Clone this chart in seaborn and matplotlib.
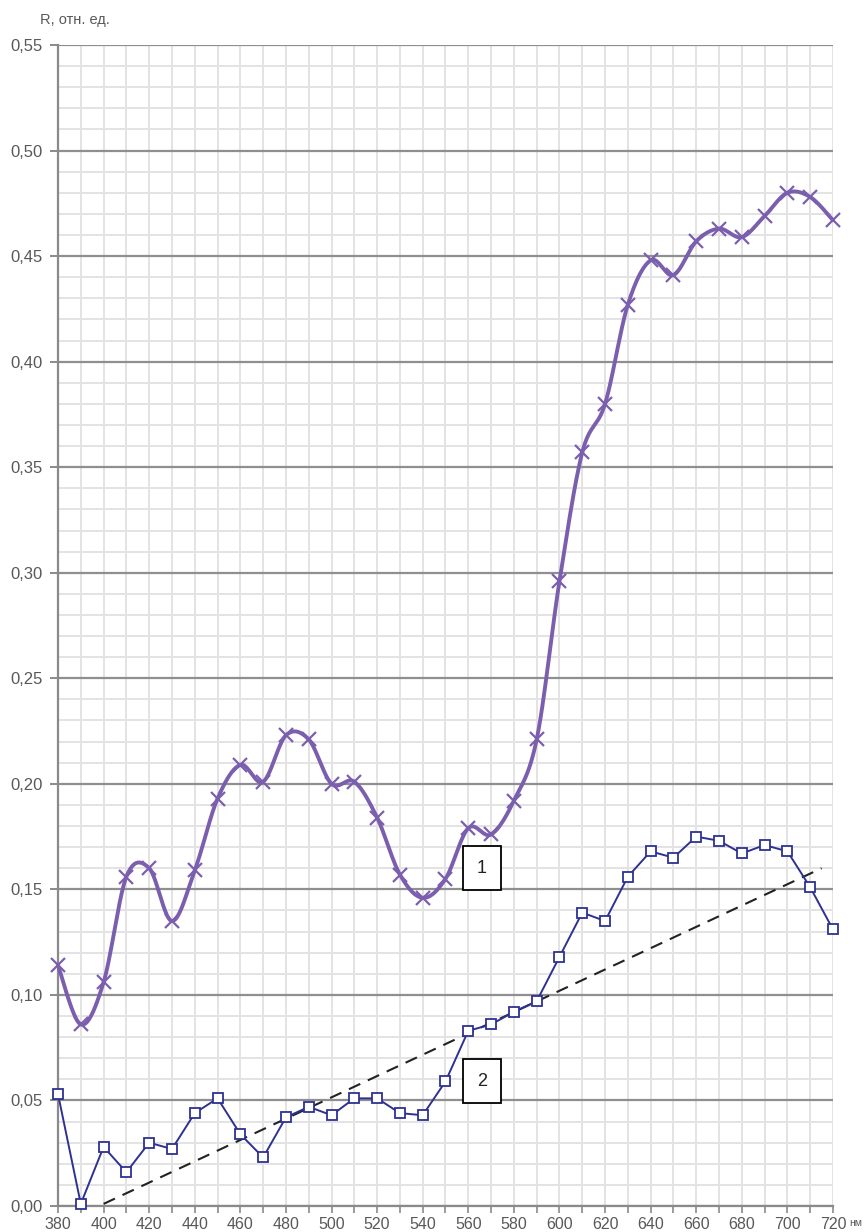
import numpy as np
import pandas as pd
import matplotlib
matplotlib.use("Agg")
import matplotlib.pyplot as plt
import seaborn as sns
from matplotlib.ticker import MultipleLocator, FuncFormatter

# ---- data ----
wavelength = list(range(380, 721, 10))
r_curve1 = [0.114, 0.086, 0.106, 0.156, 0.160, 0.135, 0.159, 0.193, 0.209, 0.201,
            0.223, 0.221, 0.200, 0.201, 0.184, 0.157, 0.146, 0.155, 0.179, 0.176,
            0.192, 0.221, 0.296, 0.357, 0.380, 0.427, 0.448, 0.441, 0.457, 0.463,
            0.459, 0.469, 0.480, 0.478, 0.467]
r_curve2 = [0.053, 0.001, 0.028, 0.016, 0.030, 0.027, 0.044, 0.051, 0.034, 0.023,
            0.042, 0.047, 0.043, 0.051, 0.051, 0.044, 0.043, 0.059, 0.083, 0.086,
            0.092, 0.097, 0.118, 0.139, 0.135, 0.156, 0.168, 0.165, 0.175, 0.173,
            0.167, 0.171, 0.168, 0.151, 0.131]
trend_x = [400, 715]
trend_y = [0.001, 0.160]
curve_labels = ["1", "2"]
label_x = [566, 566]
label_y = [0.160, 0.059]
y_title = "R, отн. ед."
x_unit = "нм"

sns.set_style("white")
plt.rcParams["font.family"] = ["Liberation Sans", "DejaVu Sans"]

C1 = "#7B5FAE"
C2 = "#2E3192"
TXT = "#595959"


def catmull_rom(xs, ys, n=24):
    P = np.column_stack([xs, ys]).astype(float)
    P = np.vstack([P[0], P, P[-1]])
    out = []
    for i in range(1, len(P) - 2):
        p0, p1, p2, p3 = P[i - 1], P[i], P[i + 1], P[i + 2]
        t = np.linspace(0, 1, n, endpoint=False)[:, None]
        seg = 0.5 * ((2 * p1) + (-p0 + p2) * t + (2 * p0 - 5 * p1 + 4 * p2 - p3) * t ** 2
                     + (-p0 + 3 * p1 - 3 * p2 + p3) * t ** 3)
        out.append(seg)
    out.append(P[-2][None, :])
    out = np.vstack(out)
    return out[:, 0], out[:, 1]


fig = plt.figure(figsize=(8.66, 12.32), dpi=100)
ax = fig.add_axes([58 / 866, 26 / 1232, 775 / 866, 1161 / 1232])

df = pd.DataFrame({"wl": wavelength, "r1": r_curve1, "r2": r_curve2})
sx, sy = catmull_rom(df["wl"].values, df["r1"].values)
smooth = pd.DataFrame({"wl": sx, "r1": sy})

# curve 1 (smoothed) with x markers
sns.lineplot(data=smooth, x="wl", y="r1", sort=False, color=C1, lw=2.8, ax=ax,
             zorder=4, clip_on=False)
ax.plot(df["wl"], df["r1"], ls="none", marker="x", ms=10, mew=1.6, color=C1,
        zorder=5, clip_on=False)

# curve 2 with open square markers
sns.lineplot(data=df, x="wl", y="r2", color=C2, lw=1.4, marker="s", ms=7,
             markerfacecolor="white", markeredgecolor=C2, markeredgewidth=1.3,
             ax=ax, zorder=6, clip_on=False)

# dashed trend line
sns.lineplot(x=trend_x, y=trend_y, color="#222222", lw=1.5, ax=ax, zorder=3,
             linestyle=(0, (6, 4)))

ax.set_xlim(380, 720)
ax.set_ylim(0, 0.55)
ax.xaxis.set_major_locator(MultipleLocator(20))
ax.xaxis.set_minor_locator(MultipleLocator(10))
ax.yaxis.set_major_locator(MultipleLocator(0.05))
ax.yaxis.set_minor_locator(MultipleLocator(0.01))
ax.yaxis.set_major_formatter(FuncFormatter(lambda v, p: f"{v:.2f}".replace(".", ",")))

ax.grid(which="minor", axis="both", color="#e3e3e3", lw=1.4, zorder=0)
ax.grid(which="major", axis="x", color="#e3e3e3", lw=1.4, zorder=0)
ax.grid(which="major", axis="y", color="#8f8f8f", lw=1.6, zorder=1)
ax.set_axisbelow(True)

for s in ["top", "right"]:
    ax.spines[s].set_visible(False)
for s in ["left", "bottom"]:
    ax.spines[s].set_color("#8a8a8a")
    ax.spines[s].set_linewidth(1.6)

ax.tick_params(axis="y", which="major", length=6, width=1.4, color="#8a8a8a",
               labelsize=12, labelcolor=TXT, pad=5, left=True)
ax.tick_params(axis="y", which="minor", length=0)
ax.tick_params(axis="x", which="both", length=5, width=1.2, color="#8a8a8a",
               labelsize=11.5, labelcolor=TXT, pad=3, bottom=True)
ax.set_xlabel("")
ax.set_ylabel("")

for lab, lx, ly in zip(curve_labels, label_x, label_y):
    ax.text(lx, ly, lab, ha="center", va="center", fontsize=13, color="#222222",
            zorder=7, bbox=dict(boxstyle="square,pad=0.75", fc="white", ec="black", lw=1.3))

fig.text(40 / 866, 1 - 20 / 1232, y_title, ha="left", va="center", fontsize=10.5, color=TXT)
fig.text(849 / 866, 1 - 1223 / 1232, x_unit, ha="left", va="center", fontsize=7.5, color=TXT)

fig.savefig("out.png", dpi=100)
